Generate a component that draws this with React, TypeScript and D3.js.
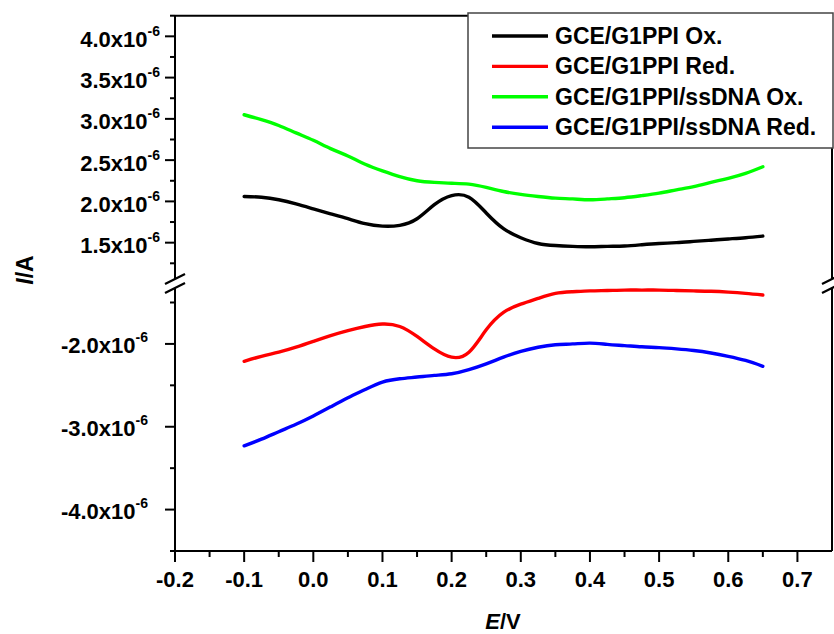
import React from "react";
import * as d3 from "d3";

// Potential grid (V)
const potentials = [
  -0.1, -0.075, -0.05, -0.025, 0.0, 0.025, 0.05, 0.075, 0.1, 0.125, 0.15, 0.175, 0.2, 0.225, 0.25,
  0.275, 0.3, 0.325, 0.35, 0.375, 0.4, 0.425, 0.45, 0.475, 0.5, 0.525, 0.55, 0.575, 0.6, 0.625, 0.65,
];

// Currents in units of 1e-6 A
const g1ppiOx = [
  2.06, 2.05, 2.02, 1.97, 1.91, 1.85, 1.79, 1.73, 1.7, 1.71, 1.79, 1.96, 2.07, 2.05, 1.86,
  1.67, 1.56, 1.49, 1.465, 1.455, 1.45, 1.455, 1.46, 1.475, 1.49, 1.5, 1.515, 1.53, 1.545, 1.56, 1.58,
];
const g1ppiRed = [
  -2.21, -2.15, -2.1, -2.04, -1.97, -1.9, -1.84, -1.79, -1.76, -1.79, -1.91, -2.06, -2.16, -2.1, -1.83,
  -1.62, -1.52, -1.45, -1.39, -1.37, -1.36, -1.355, -1.35, -1.35, -1.35, -1.355, -1.36, -1.365, -1.375, -1.39, -1.41,
];
const ssdnaOx = [
  3.05, 2.99, 2.92, 2.83, 2.74, 2.64, 2.55, 2.45, 2.37, 2.3, 2.25, 2.23, 2.22, 2.21, 2.17,
  2.12, 2.085, 2.06, 2.04, 2.03, 2.02, 2.03, 2.045, 2.07, 2.1, 2.14, 2.18, 2.23, 2.28, 2.34, 2.42,
];
const ssdnaRed = [
  -3.23, -3.15, -3.06, -2.97, -2.87, -2.76, -2.65, -2.55, -2.46, -2.42, -2.4, -2.38, -2.36, -2.31, -2.24,
  -2.16, -2.09, -2.04, -2.01, -2.0, -1.99, -2.005, -2.02, -2.035, -2.045, -2.06, -2.08, -2.11, -2.15, -2.2, -2.27,
];

const seriesNames = ["GCE/G1PPI Ox.", "GCE/G1PPI Red.", "GCE/G1PPI/ssDNA Ox.", "GCE/G1PPI/ssDNA Red."];
const seriesColors = ["#000000", "#ff0000", "#00ff00", "#0000ff"];
const seriesPanels = ["upper", "lower", "upper", "lower"];
const seriesValues = [g1ppiOx, g1ppiRed, ssdnaOx, ssdnaRed];

const xTicks = [-0.2, -0.1, 0.0, 0.1, 0.2, 0.3, 0.4, 0.5, 0.6, 0.7];
const upperTicks = [1.5, 2.0, 2.5, 3.0, 3.5, 4.0];
const lowerTicks = [-2.0, -3.0, -4.0];

const FONT = "'Liberation Sans', Arial, sans-serif";
const fmt = (v: number) => d3.format(".1f")(v).replace("\u2212", "-");

export default function App() {
  const left = 175, right = 832, top = 15.7, bottom = 551;
  const breakUp = 279, breakLo = 288;

  const x = d3.scaleLinear().domain([-0.2, 0.75]).range([left, right]);
  const yUp = d3.scaleLinear().domain([1.25, 4.25]).range([263.3, top]);
  const yLo = d3.scaleLinear().domain([-4.5, -1.5]).range([bottom, 302.5]);

  const xMinor = d3.range(-0.15, 0.75, 0.1);
  const upMinor = d3.range(1.25, 4.3, 0.5);
  const loMinor = d3.range(-4.5, -1.4, 1.0);

  const lines = seriesValues.map((vals, i) => {
    const y = seriesPanels[i] === "upper" ? yUp : yLo;
    const gen = d3
      .line<number>()
      .x((_, j) => x(potentials[j]))
      .y((v) => y(v))
      .curve(d3.curveNatural);
    return gen(vals) as string;
  });

  const slash = (cx: number, cy: number, key: string) => (
    <line key={key} x1={cx - 10} y1={cy + 5} x2={cx + 10} y2={cy - 5} stroke="#000" strokeWidth={2.2} />
  );

  return (
    <svg
      width={834}
      height={634}
      style={{ position: "fixed", left: 0, top: 0, background: "#fff" }}
      fontFamily={FONT}
    >
      <rect x={0} y={0} width={834} height={634} fill="#fff" />

      {/* curves */}
      {lines.map((d, i) => (
        <path key={i} d={d} fill="none" stroke={seriesColors[i]} strokeWidth={3.4} strokeLinecap="round" strokeLinejoin="round" />
      ))}

      {/* frame */}
      <g stroke="#000" strokeWidth={2}>
        <line x1={left} y1={top} x2={right} y2={top} />
        <line x1={left} y1={bottom} x2={right} y2={bottom} />
        <line x1={left} y1={top} x2={left} y2={breakUp} />
        <line x1={left} y1={breakLo} x2={left} y2={bottom} />
        <line x1={right} y1={top} x2={right} y2={breakUp} />
        <line x1={right} y1={breakLo} x2={right} y2={bottom} />
      </g>
      {slash(left, breakUp, "l1")}
      {slash(left, breakLo, "l2")}
      {slash(right, breakUp, "r1")}
      {slash(right, breakLo, "r2")}

      {/* ticks */}
      <g stroke="#000" strokeWidth={2}>
        {xTicks.map((t) => (
          <line key={"xt" + t} x1={x(t)} x2={x(t)} y1={bottom} y2={bottom + 11} />
        ))}
        {xMinor.map((t) => (
          <line key={"xm" + t} x1={x(t)} x2={x(t)} y1={bottom} y2={bottom + 6} />
        ))}
        {upperTicks.map((t) => (
          <line key={"ut" + t} x1={left - 10} x2={left} y1={yUp(t)} y2={yUp(t)} />
        ))}
        {upMinor.map((t) => (
          <line key={"um" + t} x1={left - 5} x2={left} y1={yUp(t)} y2={yUp(t)} />
        ))}
        {lowerTicks.map((t) => (
          <line key={"lt" + t} x1={left - 10} x2={left} y1={yLo(t)} y2={yLo(t)} />
        ))}
        {loMinor.map((t) => (
          <line key={"lm" + t} x1={left - 5} x2={left} y1={yLo(t)} y2={yLo(t)} />
        ))}
      </g>

      {/* x tick labels */}
      <g fontSize={22} fontWeight="bold" textAnchor="middle" fill="#000">
        {xTicks.map((t) => (
          <text key={"xl" + t} x={x(t)} y={587}>
            {fmt(t)}
          </text>
        ))}
      </g>

      {/* y tick labels */}
      <g fontSize={22} fontWeight="bold" textAnchor="end" fill="#000">
        {upperTicks.map((t) => (
          <text key={"ul" + t} x={160} y={yUp(t) + 10.5}>
            {fmt(t) + "x10"}
            <tspan fontSize={14} dy={-11}>-6</tspan>
          </text>
        ))}
        {lowerTicks.map((t) => (
          <text key={"ll" + t} x={148} y={yLo(t) + 9.5}>
            {fmt(t) + "x10"}
            <tspan fontSize={14} dy={-11}>-6</tspan>
          </text>
        ))}
      </g>

      {/* axis titles */}
      <text x={503} y={629} fontSize={22} fontWeight="bold" textAnchor="middle">
        <tspan fontStyle="italic">E</tspan>/V
      </text>
      <text transform="translate(33,270) rotate(-90)" fontSize={23} fontWeight="bold" textAnchor="middle">
        <tspan fontStyle="italic">I</tspan>/A
      </text>

      {/* legend */}
      <rect x={468} y={13} width={365} height={135} fill="#fff" stroke="#444" strokeWidth={1.5} />
      {seriesNames.map((name, i) => {
        const cy = 36 + i * 30.4;
        return (
          <g key={name}>
            <line x1={492} x2={548} y1={cy} y2={cy} stroke={seriesColors[i]} strokeWidth={3.4} />
            <text x={555} y={cy + 8} fontSize={23} fontWeight="bold" fill="#000">
              {name}
            </text>
          </g>
        );
      })}
    </svg>
  );
}
